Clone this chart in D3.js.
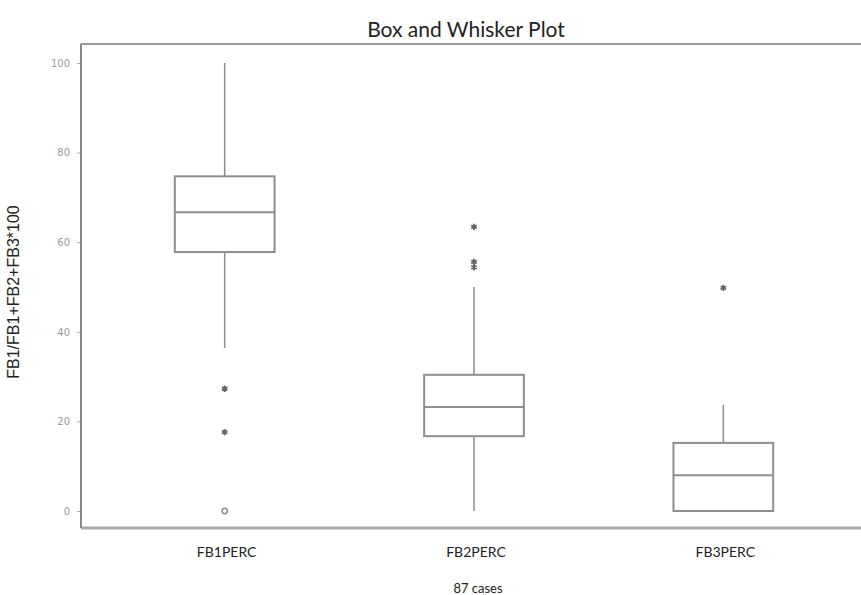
<!DOCTYPE html>
<html>
<head>
<meta charset="utf-8">
<script src="https://cdn.jsdelivr.net/npm/d3@7"></script>
<style>
  html, body { margin: 0; padding: 0; background: #fff; }
  svg { display: block; }
</style>
</head>
<body>
<svg id="chart" width="861" height="595"></svg>
<script>
// Variables and their five-number summaries (percent)
const categories = ["FB1PERC", "FB2PERC", "FB3PERC"];
const whiskerLow  = [36.4, 0, 0];
const quartile1   = [57.8, 16.7, 0];
const medians     = [66.7, 23.2, 8.0];
const quartile3   = [74.7, 30.4, 15.2];
const whiskerHigh = [100, 50, 23.7];
// Outside values: far (asterisk) and extreme (open circle)
const outlierCat   = ["FB1PERC", "FB1PERC", "FB2PERC", "FB2PERC", "FB2PERC", "FB3PERC"];
const outlierValue = [27.3, 17.6, 63.4, 55.6, 54.4, 49.8];
const extremeCat   = ["FB1PERC"];
const extremeValue = [0];
const yTicks = [0, 20, 40, 60, 80, 100];

(function () {
const svg = d3.select("#chart");
const plotLeft = 81, plotRight = 861, plotTop = 44, plotBottom = 528;

const x = d3.scaleBand().domain(categories).range([100, 848]).padding(0);
const y = d3.scaleLinear().domain([0, 100]).range([511, 63]);
const boxW = x.bandwidth() * 0.4;
const cx = c => x(c) + x.bandwidth() / 2;

// Title
svg.append("text")
  .attr("x", 466).attr("y", 37)
  .attr("text-anchor", "middle")
  .attr("font-family", "Lato, 'Open Sans', sans-serif")
  .attr("font-size", 21)
  .attr("fill", "#222")
  .text("Box and Whisker Plot");

// Frame lines
svg.append("line").attr("x1", plotLeft).attr("x2", plotRight).attr("y1", plotTop).attr("y2", plotTop)
  .attr("stroke", "#9a9a9a").attr("stroke-width", 2);
svg.append("line").attr("x1", plotLeft).attr("x2", plotRight).attr("y1", plotBottom).attr("y2", plotBottom)
  .attr("stroke", "#a8a8a8").attr("stroke-width", 3);

// Y axis
const yAxis = svg.append("g")
  .attr("transform", `translate(${plotLeft},0)`)
  .call(d3.axisLeft(y).tickValues(yTicks).tickSize(4).tickPadding(7));
yAxis.select(".domain").remove();
yAxis.append("line").attr("x1", 0).attr("x2", 0).attr("y1", plotTop).attr("y2", plotBottom)
  .attr("stroke", "#8a8a8a").attr("stroke-width", 2);
yAxis.selectAll(".tick line").attr("stroke", "#aaa").attr("stroke-width", 1);
yAxis.selectAll(".tick text")
  .attr("fill", "#999")
  .attr("font-family", "'DejaVu Sans', sans-serif")
  .attr("font-size", 10);

// Y axis title
svg.append("text")
  .attr("transform", "translate(19,292) rotate(-90)")
  .attr("text-anchor", "middle")
  .attr("font-family", "'Liberation Sans', Arial, sans-serif")
  .attr("font-size", 16)
  .attr("fill", "#222")
  .text("FB1/FB1+FB2+FB3*100");

// X category labels
svg.append("g").selectAll("text").data(categories).join("text")
  .attr("x", d => cx(d) + 2).attr("y", 557)
  .attr("text-anchor", "middle")
  .attr("font-family", "Lato, 'Open Sans', sans-serif")
  .attr("font-size", 14)
  .attr("fill", "#222")
  .text(d => d);

svg.append("text")
  .attr("x", 478).attr("y", 593)
  .attr("text-anchor", "middle")
  .attr("font-family", "Lato, 'Open Sans', sans-serif")
  .attr("font-size", 13)
  .attr("fill", "#222")
  .text("87 cases");

// Boxes
const boxCol = "#8e8e8e";
const g = svg.append("g");
categories.forEach((c, i) => {
  const bx = cx(c);
  g.append("line").attr("x1", bx).attr("x2", bx)
    .attr("y1", y(whiskerHigh[i])).attr("y2", y(quartile3[i]))
    .attr("stroke", boxCol).attr("stroke-width", 1.5);
  g.append("line").attr("x1", bx).attr("x2", bx)
    .attr("y1", y(quartile1[i])).attr("y2", y(whiskerLow[i]))
    .attr("stroke", boxCol).attr("stroke-width", 1.5);
  g.append("rect")
    .attr("x", bx - boxW / 2).attr("width", boxW)
    .attr("y", y(quartile3[i])).attr("height", y(quartile1[i]) - y(quartile3[i]))
    .attr("fill", "none").attr("stroke", boxCol).attr("stroke-width", 2);
  g.append("line").attr("x1", bx - boxW / 2).attr("x2", bx + boxW / 2)
    .attr("y1", y(medians[i])).attr("y2", y(medians[i]))
    .attr("stroke", boxCol).attr("stroke-width", 2);
});

// Outside values
const star = d3.symbol().type(d3.symbolAsterisk).size(28);
g.selectAll(".out").data(outlierValue).join("path")
  .attr("class", "out")
  .attr("transform", (d, i) => `translate(${cx(outlierCat[i])},${y(d)})`)
  .attr("d", star)
  .attr("fill", "none").attr("stroke", "#666").attr("stroke-width", 1.8);

const circ = d3.symbol().type(d3.symbolCircle).size(22);
g.selectAll(".ext").data(extremeValue).join("path")
  .attr("class", "ext")
  .attr("transform", (d, i) => `translate(${cx(extremeCat[i])},${y(d)})`)
  .attr("d", circ)
  .attr("fill", "#fff").attr("stroke", "#888").attr("stroke-width", 1.5);
})();
</script>
</body>
</html>
